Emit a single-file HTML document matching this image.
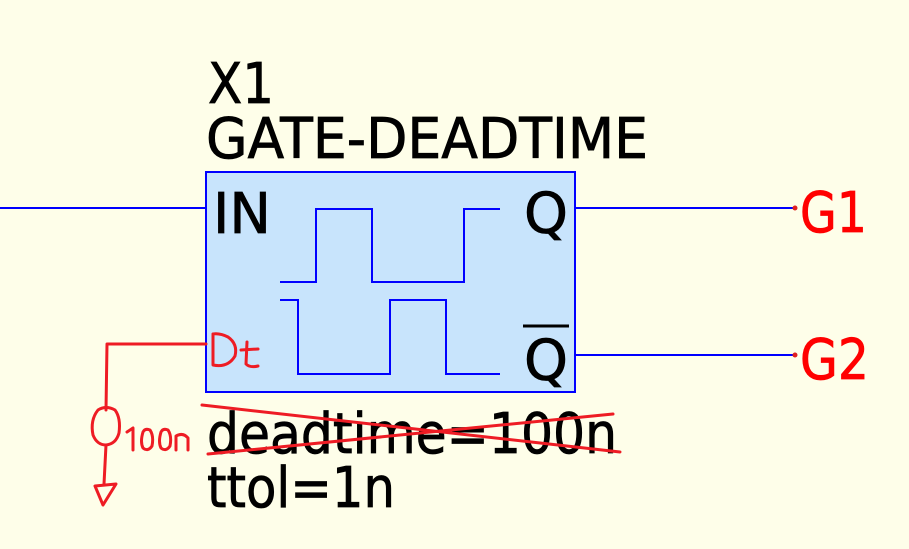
<!DOCTYPE html>
<html><head><meta charset="utf-8"><style>
html,body{margin:0;padding:0;background:#fefee9;}
svg{display:block}
text{font-family:"DejaVu Sans","Liberation Sans",sans-serif;}
</style></head><body>
<svg width="909" height="549" viewBox="0 0 909 549" xmlns="http://www.w3.org/2000/svg">
<rect width="909" height="549" fill="#fefee9"/>
<g stroke="#000" stroke-width="0.8">
<text x="208" y="103" font-size="56" fill="#000" textLength="66" lengthAdjust="spacingAndGlyphs">X1</text>
<text x="206" y="158" font-size="56" fill="#000" textLength="442" lengthAdjust="spacingAndGlyphs">GATE-DEADTIME</text>
</g>
<rect x="206" y="172" width="369" height="220" fill="#c8e4fc" stroke="#0000ff" stroke-width="2"/>
<g stroke="#0000ff" stroke-width="2" fill="none">
<line x1="0" y1="208" x2="206" y2="208"/>
<line x1="575" y1="208" x2="795" y2="208"/>
<line x1="575" y1="355" x2="795" y2="355"/>
<polyline points="280,282 316,282 316,209 372,209 372,282 464,282 464,209 500,209"/>
<polyline points="280,300 298,300 298,374 390,374 390,300 446,300 446,374 500,374"/>
</g>
<circle cx="795" cy="208" r="2.5" fill="#e02020"/>
<circle cx="795" cy="355" r="2.5" fill="#e02020"/>
<g stroke="#000" stroke-width="0.8">
<text x="213" y="233" font-size="56" fill="#000" textLength="58" lengthAdjust="spacingAndGlyphs">IN</text>
<text x="524" y="233" font-size="56" fill="#000" textLength="44" lengthAdjust="spacingAndGlyphs">Q</text>
<text x="524" y="380" font-size="56" fill="#000" textLength="44" lengthAdjust="spacingAndGlyphs">Q</text>
<text x="207" y="453" font-size="56" fill="#000" textLength="410" lengthAdjust="spacingAndGlyphs">deadtime=100n</text>
<text x="207" y="507" font-size="56" fill="#000" textLength="188" lengthAdjust="spacingAndGlyphs">ttol=1n</text>
</g>
<line x1="523" y1="326" x2="569" y2="326" stroke="#000" stroke-width="3"/>
<g stroke="#ff0000" stroke-width="0.8">
<text x="800" y="232" font-size="56" fill="#ff0000" textLength="67" lengthAdjust="spacingAndGlyphs">G1</text>
<text x="800" y="379" font-size="56" fill="#ff0000" textLength="69" lengthAdjust="spacingAndGlyphs">G2</text>
</g>
<g stroke="#ee1c24" stroke-width="3" fill="none" stroke-linecap="round" stroke-linejoin="round">
<polyline points="206,344 107,344 106,410"/>
<path d="M98,410 Q106,405 115,410 Q121,418 119,433 Q116,444 106,445 Q97,445 93,435 Q90,420 98,410 Z"/>
<line x1="106" y1="445" x2="104" y2="484"/>
<polygon points="95,486 116,484 103,505"/>
<path d="M213,334 L213,365 Q228,368 235,356 Q238,344 228,337 Q220,333 213,334"/>
<path d="M247,342 L246,364 Q250,368 258,366 M241,350 L258,349"/>
<path d="M127,432 L133,428 L133,450 M143,432 Q140,442 143,448 Q148,452 152,446 Q154,436 150,430 Q145,428 143,432 M161,432 Q158,442 161,448 Q166,452 170,446 Q172,436 168,430 Q163,428 161,432 M176,450 L176,436 Q183,432 188,438 L188,450"/>
<line x1="202" y1="405" x2="620" y2="452"/>
<line x1="208" y1="454" x2="613" y2="414"/>
</g>
</svg>
</body></html>
